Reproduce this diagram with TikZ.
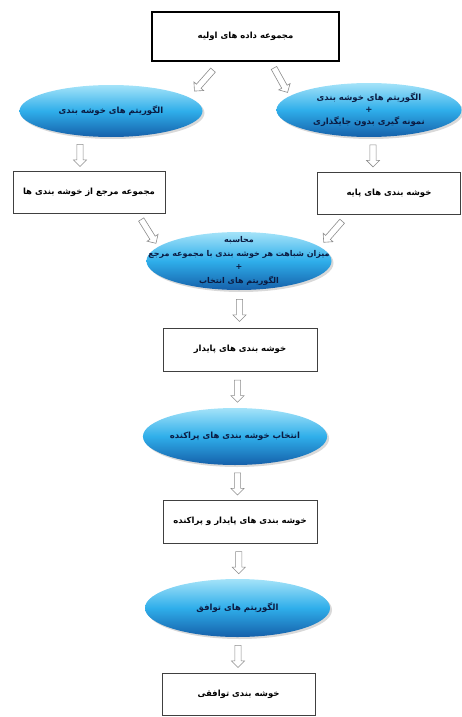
\documentclass[tikz,border=0pt]{standalone}
\usepackage{fontspec}
\newfontfamily\persianfont[Script=Arabic]{DejaVu Sans}
\TeXXeTstate=1
\usetikzlibrary{calc,shapes.geometric,shapes.arrows,shadows}

% Right-to-left line of Persian text
\newcommand{\fatext}[1]{\beginR #1\endR}

\definecolor{blobTop}{HTML}{A4E3F9}
\definecolor{blobMid}{HTML}{2FAEEA}
\definecolor{blobBot}{HTML}{1560AA}
\definecolor{blobText}{HTML}{0B1B42}

\tikzset{
    box/.style={draw=black!75, line width=0.9pt, fill=white, align=center,
        font=\persianfont\bfseries\fontsize{8.5}{12}\selectfont},
    blob/.style={ellipse, inner sep=0pt, align=center, text=blobText,
        top color=blobTop, bottom color=blobBot, middle color=blobMid,
        drop shadow={opacity=0.3, shadow xshift=2pt, shadow yshift=-2pt},
        font=\persianfont\bfseries\fontsize{8.5}{12}\selectfont},
    blockarr/.style={single arrow, draw=black!45, fill=white, line width=0.6pt,
        minimum height=28pt, inner sep=2.8pt, single arrow head extend=3.4pt,
        allow upside down},
    downarr/.style={blockarr, minimum height=22pt, shape border rotate=270}
}

\begin{document}
\begin{tikzpicture}[x=1pt, y=1pt]

    % Keep the page as large as the picture
    \useasboundingbox (0,0) rectangle (462,-717);

    % Define the first row: the initial data set
    \node[box, line width=1.3pt, draw=black, minimum width=187pt, minimum height=49pt]
        (data) at (245.5,-36.5) {\fatext{مجموعه داده های اولیه}};

    % Define the two clustering branches
    \node[blob, minimum width=183pt, minimum height=52pt]
        (algL) at (111,-111) {\fatext{الگوریتم های خوشه بندی}};
    \node[blob, minimum width=185pt, minimum height=54pt]
        (algR) at (369,-110) {\fatext{الگوریتم های خوشه بندی}\\+\\\fatext{نمونه گیری بدون جایگذاری}};

    \node[box, minimum width=152pt, minimum height=42pt]
        (refL) at (89,-192) {\fatext{مجموعه مرجع از خوشه بندی ها}};
    \node[box, minimum width=143pt, minimum height=42pt]
        (baseR) at (389,-193) {\fatext{خوشه بندی های پایه}};

    % Define the middle column
    \node[blob, minimum width=185pt, minimum height=58pt, inner xsep=-28pt, inner ysep=-4pt,
          font=\persianfont\bfseries\fontsize{8}{13.5}\selectfont]
        (calc) at (239,-261) {\fatext{محاسبه}\\\fatext{میزان شباهت هر خوشه بندی با مجموعه مرجع}\\+\\\fatext{الگوریتم های انتخاب}};
    \node[box, minimum width=154pt, minimum height=43pt]
        (stab) at (240,-349.5) {\fatext{خوشه بندی های پایدار}};
    \node[blob, minimum width=184pt, minimum height=57pt]
        (sel) at (235,-436.5) {\fatext{انتخاب خوشه بندی های پراکنده}};
    \node[box, minimum width=154pt, minimum height=43pt]
        (stabsp) at (240,-521.5) {\fatext{خوشه بندی های پایدار و پراکنده}};
    \node[blob, minimum width=185pt, minimum height=58pt]
        (cons) at (237.5,-608) {\fatext{الگوریتم های توافق}};
    \node[box, minimum width=153pt, minimum height=42pt]
        (final) at (238.5,-694) {\fatext{خوشه بندی توافقی}};

    % Draw the slanted block arrows
    \path ([xshift=-25pt]data.south) -- node[blockarr, sloped] {} (algL.10);
    \path ([xshift=25pt]data.south) -- node[blockarr, sloped] {} (algR.170);
    \path ([xshift=-28pt]refL.south east) -- node[blockarr, sloped] {} (calc.170);
    \path ([xshift=31pt]baseR.south west) -- node[blockarr, sloped] {} (calc.10);

    % Draw the downward block arrows
    \path ([xshift=-31pt]algL.south) -- node[downarr] {} ([xshift=-9pt]refL.north);
    \path ([xshift=4pt]algR.south) -- node[downarr] {} ([xshift=-16pt]baseR.north);
    \path (calc.south) -- node[downarr] {} (stab.north);
    \path (stab.south) -- node[downarr] {} (sel.north);
    \path (sel.south) -- node[downarr] {} (stabsp.north);
    \path (stabsp.south) -- node[downarr] {} (cons.north);
    \path (cons.south) -- node[downarr] {} (final.north);

\end{tikzpicture}
\end{document}
